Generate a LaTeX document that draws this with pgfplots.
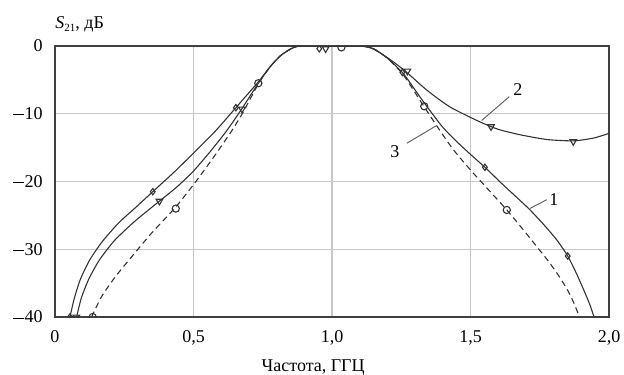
\documentclass[border=0pt]{standalone}
\usepackage{fontspec}
\setmainfont{Liberation Serif}
\usepackage{pgfplots}
\pgfplotsset{compat=1.18}
\newcommand\mn{\rule[0.24em]{0.56em}{0.055em}\kern0.06em}
\begin{document}
\fontsize{9}{11}\selectfont
\begin{tikzpicture}
\path[use as bounding box] (-27.5pt,-28.5pt) rectangle (284.5pt,158.5pt);
\begin{axis}[
  at={(0pt,0pt)}, anchor=south west,
  scale only axis, width=277pt, height=135.5pt,
  xmin=0, xmax=2, ymin=-40, ymax=0,
  xtick={0,0.5,1,1.5,2}, xticklabels={0,{0,5},{1,0},{1,5},{2,0}},
  ytick={-40,-30,-20,-10,0}, yticklabels={\mn40,\mn30,\mn20,\mn10,0},
  major tick length=0pt,
  grid=major, major grid style={black!22, line width=0.6pt},
  axis line style={black!75, line width=0.6pt},
  tick label style={font=\fontsize{9}{11}\selectfont},
  xticklabel style={yshift=-3.5pt},
  yticklabel style={xshift=-3pt},
  every axis x label/.style={at={(rel axis cs:0.466,0)}, anchor=base, yshift=-27.3pt},
  every axis y label/.style={at={(rel axis cs:0,1)}, anchor=base west, xshift=-3pt, yshift=9pt},
  xlabel={Частота, ГГЦ},
  ylabel={\textit{S}\raisebox{-0.45ex}{\fontsize{5.5}{6}\selectfont 21}, дБ},
  clip marker paths=true,
  every axis plot/.append style={line width=0.55pt, black!80},
]
% curve 1 (solid, diamonds)
\addplot[smooth, tension=0.4] coordinates {
 (0.054,-40) (0.070,-37.2) (0.092,-34.4) (0.125,-31.6) (0.170,-28.9) (0.230,-26.1)
 (0.292,-23.8) (0.353,-21.5) (0.433,-18.5) (0.505,-15.6) (0.578,-12.6) (0.653,-9.1)
 (0.70,-6.9) (0.734,-5.3) (0.776,-3.1) (0.812,-1.5) (0.848,-0.5) (0.884,0)
 (1.0,0) (1.105,0) (1.15,-0.4) (1.2,-1.8) (1.258,-4.1) (1.30,-6.5) (1.342,-8.9)
 (1.40,-12.0) (1.45,-14.1) (1.50,-16.0) (1.552,-17.9) (1.618,-20.5) (1.679,-22.8)
 (1.715,-24.2) (1.763,-26.3) (1.811,-28.6) (1.851,-31.0) (1.885,-33.8)
 (1.915,-36.6) (1.932,-38.3) (1.946,-40)
};
% curve 2 (solid, triangles)
\addplot[smooth, tension=0.4] coordinates {
 (0.078,-40) (0.095,-37.2) (0.122,-34.4) (0.160,-31.6) (0.215,-28.7) (0.290,-25.8)
 (0.377,-22.9) (0.44,-20.8) (0.499,-18.5) (0.56,-15.6) (0.62,-12.5) (0.674,-9.3)
 (0.734,-5.5) (0.776,-3.1) (0.812,-1.5) (0.848,-0.5) (0.884,0) (1.0,0) (1.10,0)
 (1.14,-0.3) (1.173,-1.0) (1.22,-2.3) (1.270,-3.9) (1.342,-6.5) (1.426,-9.0)
 (1.534,-11.2) (1.60,-12.3) (1.679,-13.1) (1.775,-13.8) (1.871,-14.0)
 (1.943,-13.6) (2.0,-12.9)
};
% curve 3 (dashed, circles)
\addplot[smooth, tension=0.4, dash pattern=on 3pt off 2pt] coordinates {
 (0.132,-40) (0.168,-37.0) (0.217,-34.1) (0.277,-31.1) (0.349,-27.6) (0.433,-23.9)
 (0.505,-20.2) (0.578,-16.1) (0.64,-12.4) (0.68,-9.7) (0.734,-5.6) (0.776,-3.1)
 (0.812,-1.5) (0.848,-0.5) (0.884,0) (1.0,0) (1.105,0) (1.15,-0.4) (1.2,-1.8)
 (1.258,-4.3) (1.33,-8.8) (1.385,-12.2) (1.438,-15.3) (1.50,-18.3) (1.56,-21.0)
 (1.631,-24.2) (1.69,-27.1) (1.739,-29.6) (1.78,-31.7) (1.815,-33.7)
 (1.850,-36.0) (1.875,-38.1) (1.893,-40)
};
% markers
\addplot[only marks, mark=diamond, mark size=1.6pt, mark options={solid, fill=white}] coordinates {
 (0.054,-40) (0.353,-21.5) (0.653,-9.1) (0.954,-0.4) (1.254,-3.9) (1.552,-17.9) (1.851,-31.0)
};
\addplot[only marks, mark=triangle, mark size=1.9pt, mark options={solid, fill=white, rotate=180}] coordinates {
 (0.077,-40) (0.377,-22.9) (0.675,-9.3) (0.977,-0.4) (1.272,-3.7) (1.574,-11.9) (1.871,-14.1)
};
\addplot[only marks, mark=o, mark size=1.8pt, mark options={solid, fill=white}] coordinates {
 (0.136,-40) (0.436,-24.0) (0.734,-5.5) (1.034,-0.2) (1.333,-8.9) (1.631,-24.2)
};
% annotations
\draw[black!60, line width=0.5pt] (axis cs:1.715,-23.96) -- (axis cs:1.775,-22.7);
\node at (axis cs:1.801,-22.6) {1};
\draw[black!60, line width=0.5pt] (axis cs:1.540,-11.0) -- (axis cs:1.640,-7.48);
\node at (axis cs:1.671,-6.5) {2};
\draw[black!60, line width=0.5pt] (axis cs:1.375,-11.8) -- (axis cs:1.270,-14.36);
\node at (axis cs:1.227,-15.6) {3};
\end{axis}
\end{tikzpicture}
\end{document}
